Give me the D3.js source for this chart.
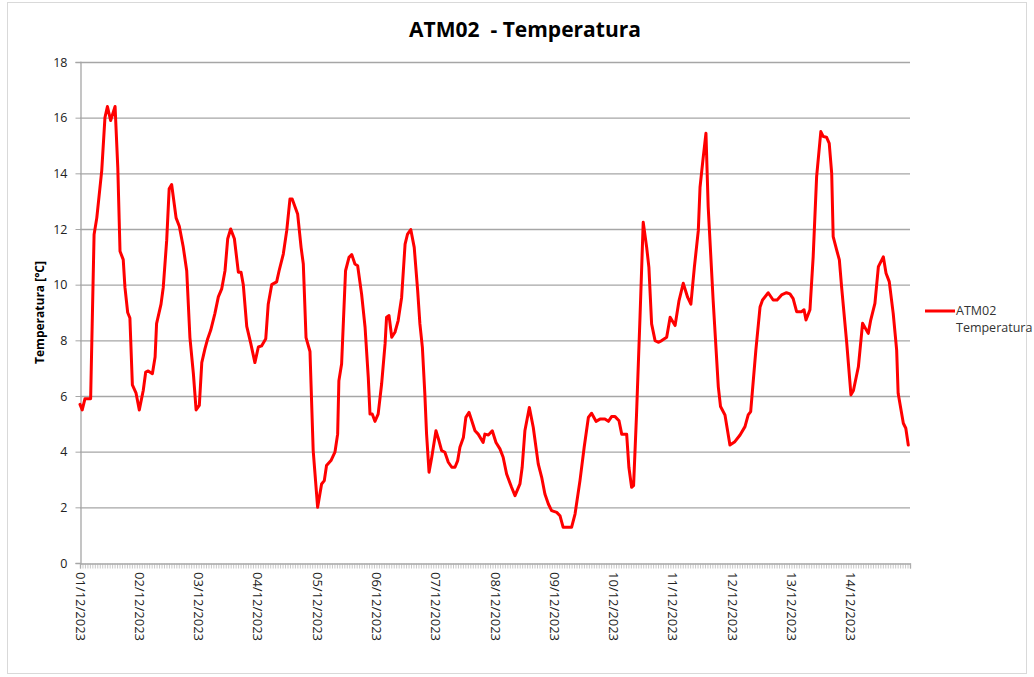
<!DOCTYPE html>
<html>
<head>
<meta charset="utf-8">
<script src="https://cdn.jsdelivr.net/npm/d3@7"></script>
<style>
  html, body { margin: 0; padding: 0; background: #fff; }
  svg { display: block; }
  text { font-family: "Open Sans", "Liberation Sans", sans-serif; }
</style>
</head>
<body>
<svg id="chart" width="1034" height="677"></svg>
<script>
// ---- data (hours since 01/12/2023 00:00, temperature °C) ----
const hours = [0,0.9,2.0,4.3,5.7,6.8,8.8,10.1,11.1,12.4,14.2,15.3,16.2,17.5,18.2,19.3,20.2,21.2,22.7,24.0,
  25.6,26.6,27.6,29.3,30.4,31.0,32.8,33.7,35.1,36.1,37.1,38.9,40.2,41.8,43.2,44.5,45.9,47.0,
  48.3,49.3,50.6,51.7,52.9,54.6,56.0,57.4,58.7,59.8,61.0,62.5,64.1,65.2,66.1,67.5,69.1,70.8,
  72.2,73.5,75.2,76.2,77.6,79.6,80.6,82.3,83.7,85.0,85.9,88.1,89.5,90.4,91.5,93.1,94.4,96.2,
  97.8,98.9,99.8,101.6,103.2,104.3,104.8,105.9,107.5,108.9,110.0,111.3,112.4,114.0,115.4,116.7,117.4,118.3,119.4,
  120.7,122.1,123.5,124.1,125.1,126.2,127.5,128.8,130.2,131.6,132.6,133.9,135.3,136.7,137.6,138.6,139.6,140.3,141.3,142.4,
  144.1,145.3,146.4,147.7,149.1,150.5,151.8,152.9,153.8,155.2,156.2,157.5,158.6,159.9,161.2,163.2,163.9,165.3,166.9,
  168.4,170.0,171.3,172.7,174.7,176.1,178.1,179.0,180.1,181.9,183.5,185.5,186.9,188.2,189.6,190.9,
  193.0,194.3,195.6,199.0,200.4,202.4,204.1,205.8,207.1,208.9,210.5,212.5,213.9,215.2,
  216.6,218.2,219.3,221.3,222.2,223.3,224.1,225.3,226.7,228.0,229.4,230.3,231.4,232.8,234.1,235.5,237.5,238.9,
  240.9,242.5,244.2,246.0,247.3,248.7,250.3,251.0,252.2,253.4,254.3,256.3,258.4,259.3,261.1,263.1,
  265.1,267.2,269.2,270.5,271.5,273.6,275.3,276.3,278.6,280.6,282.2,284.0,286.0,287.4,
  288.7,290.1,292.1,293.1,293.9,295.5,296.8,298.2,299.9,300.9,302.2,303.3,304.3,304.9,306.3,307.4,308.3,310.4,
  312.1,313.1,315.1,316.8,319.1,320.1,321.8,323.2,325.2,326.3,327.6,329.2,330.6,331.2,333.3,334.3,335.3];
const temps = [5.7,5.5,5.9,5.9,11.8,12.4,14.1,16.0,16.4,15.9,16.4,14.2,11.2,10.9,9.9,9.0,8.8,6.4,6.1,5.5,
  6.2,6.86,6.9,6.8,7.4,8.6,9.3,9.9,11.6,13.45,13.6,12.4,12.1,11.35,10.5,8.1,6.8,5.5,
  5.66,7.2,7.7,8.06,8.36,8.96,9.56,9.86,10.5,11.65,12.0,11.65,10.45,10.45,10.0,8.5,7.9,7.2,
  7.76,7.8,8.06,9.3,10.0,10.1,10.5,11.1,11.95,13.08,13.08,12.54,11.34,10.74,8.1,7.6,4.04,2.0,
  2.84,2.96,3.5,3.68,3.98,4.63,6.55,7.15,10.5,10.98,11.08,10.74,10.68,9.66,8.47,6.67,5.35,5.35,5.09,
  5.35,6.43,7.87,8.83,8.89,8.11,8.29,8.71,9.54,11.46,11.82,11.98,11.34,9.78,8.59,7.75,6.07,4.63,3.26,3.8,
  4.75,4.4,4.04,3.98,3.62,3.44,3.44,3.68,4.16,4.51,5.23,5.41,5.11,4.75,4.63,4.33,4.63,4.6,4.75,
  4.33,4.1,3.8,3.2,2.72,2.42,2.84,3.44,4.75,5.59,4.87,3.56,3.08,2.48,2.12,1.88,
  1.82,1.7,1.28,1.28,1.76,2.96,4.16,5.23,5.38,5.09,5.17,5.17,5.09,5.26,
  5.26,5.11,4.63,4.63,3.44,2.72,2.78,5.35,8.83,12.24,11.34,10.62,8.59,7.99,7.93,7.99,8.11,8.83,
  8.53,9.43,10.05,9.54,9.3,10.62,11.94,13.5,14.5,15.44,12.8,9.45,6.33,5.62,5.32,4.24,
  4.36,4.6,4.9,5.32,5.44,7.65,9.2,9.45,9.71,9.45,9.45,9.63,9.71,9.67,
  9.5,9.03,9.03,9.1,8.73,9.1,11.0,13.88,15.5,15.32,15.3,15.08,14.0,11.73,11.25,10.89,9.93,7.89,
  6.04,6.2,7.05,8.61,8.25,8.73,9.33,10.65,11.0,10.41,10.11,8.97,7.65,6.1,5.02,4.84,4.24];
const dayLabels = ["01/12/2023","02/12/2023","03/12/2023","04/12/2023","05/12/2023","06/12/2023","07/12/2023",
  "08/12/2023","09/12/2023","10/12/2023","11/12/2023","12/12/2023","13/12/2023","14/12/2023"];
const yTicks = [0,2,4,6,8,10,12,14,16,18];
const seriesName = ["ATM02", "Temperatura"];
const titleText = "ATM02  - Temperatura";
const yTitle = "Temperatura [°C]";

// ---- layout ----
const svg = d3.select("#chart");
const L = 80, R = 910, T = 62, B = 563;
const x = d3.scaleLinear().domain([0, 336]).range([L, R]);
const y = d3.scaleLinear().domain([0, 18]).range([B, T]);

// outer border
svg.append("rect").attr("x", 7.5).attr("y", 2.5).attr("width", 1019).attr("height", 671)
  .attr("fill", "#fff").attr("stroke", "#d9d9d9").attr("stroke-width", 1);

// title
svg.append("text").attr("x", 525).attr("y", 37).attr("text-anchor", "middle")
  .style("font-size", "21px").style("font-weight", "bold").attr("fill", "#000")
  .attr("xml:space", "preserve").text(titleText);

// gridlines
svg.append("g").selectAll("line").data(yTicks.filter(d => d > 0)).join("line")
  .attr("x1", L).attr("x2", R).attr("y1", d => y(d) + 0.5).attr("y2", d => y(d) + 0.5)
  .attr("stroke", "#a6a6a6").attr("stroke-width", 1.3);

// y axis
const yAxis = svg.append("g").attr("transform", `translate(${L + 0.5},0)`)
  .call(d3.axisLeft(y).tickValues(yTicks).tickSize(5).tickPadding(8).tickFormat(d3.format("d")));
yAxis.select(".domain").attr("stroke", "#a6a6a6").attr("stroke-width", 1.3);
yAxis.selectAll(".tick line").attr("stroke", "#a6a6a6");
yAxis.selectAll(".tick text").style("font-size", "12.5px").attr("fill", "#222")
  .style("font-family", "'Open Sans', sans-serif");

// y title
svg.append("text").attr("transform", `translate(44,${(T + B) / 2}) rotate(-90)`)
  .attr("text-anchor", "middle").style("font-size", "12px").style("font-weight", "bold")
  .attr("fill", "#000").text(yTitle);

// x axis with hourly ticks
const hourTicks = d3.range(0, 337);
const xAxis = svg.append("g").attr("transform", `translate(0,${B + 0.5})`)
  .call(d3.axisBottom(x).tickValues(hourTicks).tickSize(5).tickFormat(""));
xAxis.select(".domain").attr("stroke", "#a6a6a6").attr("stroke-width", 1.3);
xAxis.selectAll(".tick line").attr("stroke", "#b0b0b0").attr("stroke-width", 0.7);

// day labels (rotated)
svg.append("g").selectAll("text").data(dayLabels).join("text")
  .attr("transform", (d, i) => `translate(${x(i * 24) - 4.5},${B + 9}) rotate(90)`)
  .attr("text-anchor", "start").style("font-size", "13px").attr("fill", "#222")
  .text(d => d);

// line
const pts = hours.map((h, i) => [h, temps[i]]);
svg.append("path").datum(pts)
  .attr("fill", "none").attr("stroke", "#ff0000").attr("stroke-width", 3)
  .attr("stroke-linejoin", "round").attr("stroke-linecap", "round")
  .attr("d", d3.line().x(d => x(d[0])).y(d => y(d[1])));

// legend
const lg = svg.append("g");
lg.append("line").attr("x1", 925).attr("x2", 955).attr("y1", 311).attr("y2", 311)
  .attr("stroke", "#ff0000").attr("stroke-width", 3);
lg.selectAll("text").data(seriesName).join("text")
  .attr("x", 956).attr("y", (d, i) => 315 + i * 17)
  .style("font-size", "12.5px").attr("fill", "#333").text(d => d);
</script>
</body>
</html>
